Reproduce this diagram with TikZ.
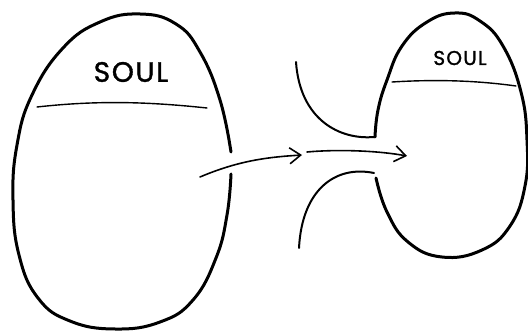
\documentclass[tikz,border=0pt]{standalone}
\usepackage{fontspec}
\setmainfont{Poppins}
\newfontfamily\soulfont{Poppins}[FakeBold=1.3,LetterSpace=6]
\usetikzlibrary{arrows.meta}
\begin{document}
\begin{tikzpicture}[x=1pt,y=-1pt,
  eggline/.style={line width=3pt,line cap=round,line join=round},
  thinline/.style={line width=1.4pt,line cap=round},
  funnel/.style={line width=2pt,line cap=round},
  arrowline/.style={line width=1.6pt,line cap=round,-{Straight Barb[length=11pt,width=16pt,line width=1.6pt]}},
  label/.style={inner sep=0pt}]
\useasboundingbox (0,0) rectangle (528,331);
% left egg
\draw[eggline] plot[smooth,tension=0.75] coordinates {(231,174) (227,215) (216,258) (193,300) (160,322) (115,329) (70,321) (38,298) (19,255) (13,200) (17,145) (32,95) (63,48) (100,22) (140,14) (176,24) (200,52) (220,100) (231,152)};
% right egg
\draw[eggline] plot[smooth,tension=0.75] coordinates {(376,178) (387,212) (408,242) (442,257) (482,250) (510,226) (525,186) (527,140) (521,92) (503,46) (480,21) (455,13) (427,22) (402,46) (387,80) (378,110) (375,137)};
% dividers
\coordinate (dl1) at (37,107); \coordinate (dl2) at (207,108);
\draw[thinline] (dl1) .. controls (100,100) and (150,102) .. (dl2);
\coordinate (dr1) at (392,82); \coordinate (dr2) at (516,86);
\draw[thinline] (dr1) .. controls (440,79) and (480,81) .. (dr2);
% labels
\node[label,font=\fontsize{28}{28}\soulfont] (soulL) at (131,72) {SOUL};
\node[label,font=\fontsize{20}{20}\soulfont] (soulR) at (460,58) {SOUL};
% funnel
\coordinate (fu1) at (296,62); \coordinate (fu2) at (374,137);
\draw[funnel] (fu1) .. controls (300,120) and (340,140) .. (fu2);
\coordinate (fb1) at (299,248); \coordinate (fb2) at (374,173);
\draw[funnel] (fb1) .. controls (302,190) and (335,165) .. (fb2);
% arrows
\coordinate (a1s) at (200,177); \coordinate (a1e) at (302,155);
\draw[arrowline] (a1s) .. controls (240,160) and (270,157) .. (a1e);
\coordinate (a2s) at (307,152); \coordinate (a2e) at (407,156);
\draw[arrowline] (a2s) .. controls (340,149) and (380,151) .. (a2e);
\end{tikzpicture}
\end{document}
